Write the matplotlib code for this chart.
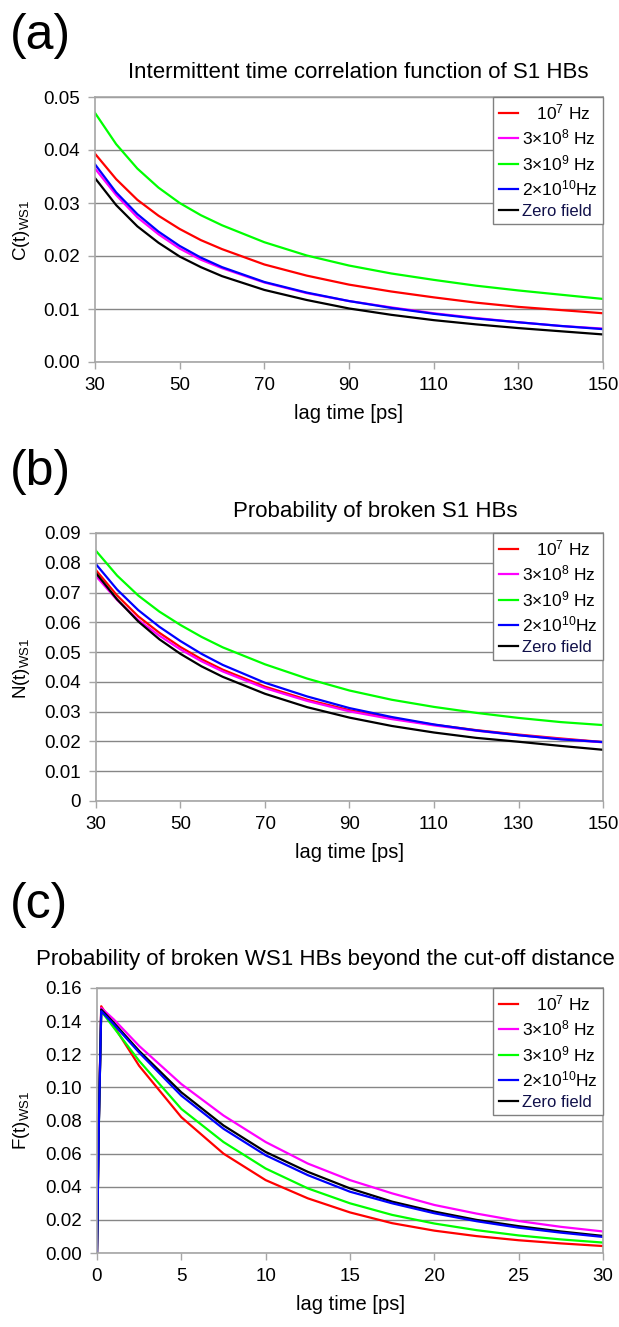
import matplotlib
matplotlib.use("Agg")
import matplotlib.pyplot as plt
from matplotlib.ticker import FixedLocator, FuncFormatter

plt.rcParams['font.family'] = ['Liberation Sans', 'DejaVu Sans']
plt.rcParams['mathtext.fontset'] = 'custom'
plt.rcParams['mathtext.rm'] = 'Liberation Sans'
plt.rcParams['mathtext.it'] = 'Liberation Sans:italic'
plt.rcParams['mathtext.bf'] = 'Liberation Sans:bold'

# ---------------- data ----------------
series_labels = ['   10$^{7}$ Hz', '3×10$^{8}$ Hz', '3×10$^{9}$ Hz', '2×10$^{10}$Hz', 'Zero field']
series_colors = ['#ff0000', '#ff00ff', '#00ff00', '#0000ff', '#000000']

# panel (a): intermittent time correlation function
t_a = [30, 35, 40, 45, 50, 55, 60, 70, 80, 90, 100, 110, 120, 130, 140, 150]
c_1e7 = [0.0393, 0.0345, 0.0306, 0.0276, 0.0251, 0.0230, 0.0213, 0.0184, 0.0163, 0.0146, 0.0133, 0.0122, 0.0112, 0.0104, 0.0098, 0.0092]
c_3e8 = [0.0365, 0.0315, 0.0273, 0.0241, 0.0214, 0.0193, 0.0177, 0.0150, 0.0130, 0.0115, 0.0103, 0.0092, 0.0083, 0.0075, 0.0068, 0.0063]
c_3e9 = [0.0470, 0.0411, 0.0365, 0.0329, 0.0300, 0.0277, 0.0258, 0.0226, 0.0201, 0.0182, 0.0167, 0.0155, 0.0144, 0.0135, 0.0127, 0.0119]
c_2e10 = [0.0373, 0.0320, 0.0279, 0.0246, 0.0219, 0.0197, 0.0179, 0.0151, 0.0131, 0.0115, 0.0102, 0.0091, 0.0082, 0.0075, 0.0068, 0.0062]
c_zero = [0.0347, 0.0296, 0.0256, 0.0225, 0.0199, 0.0179, 0.0162, 0.0136, 0.0117, 0.0101, 0.0089, 0.0079, 0.0071, 0.0064, 0.0058, 0.0052]

# panel (b): probability of broken S1 HBs
t_b = [30, 35, 40, 45, 50, 55, 60, 70, 80, 90, 100, 110, 120, 130, 140, 150]
n_1e7 = [0.0775, 0.0690, 0.0620, 0.0565, 0.0517, 0.0476, 0.0441, 0.0384, 0.0340, 0.0305, 0.0278, 0.0256, 0.0238, 0.0223, 0.0210, 0.0198]
n_3e8 = [0.0755, 0.0675, 0.0608, 0.0555, 0.0509, 0.0469, 0.0435, 0.0379, 0.0336, 0.0301, 0.0275, 0.0254, 0.0236, 0.0221, 0.0208, 0.0197]
n_3e9 = [0.0840, 0.0757, 0.0690, 0.0636, 0.0591, 0.0551, 0.0516, 0.0459, 0.0411, 0.0371, 0.0340, 0.0316, 0.0296, 0.0279, 0.0265, 0.0255]
n_2e10 = [0.0795, 0.0710, 0.0641, 0.0585, 0.0537, 0.0494, 0.0457, 0.0397, 0.0351, 0.0312, 0.0282, 0.0257, 0.0237, 0.0221, 0.0207, 0.0198]
n_zero = [0.0765, 0.0677, 0.0603, 0.0543, 0.0494, 0.0452, 0.0417, 0.0360, 0.0315, 0.0280, 0.0252, 0.0230, 0.0212, 0.0199, 0.0185, 0.0172]

# panel (c): probability of broken WS1 HBs beyond cut-off distance
t_c = [0, 0.1, 0.25, 1, 2.5, 5, 7.5, 10, 12.5, 15, 17.5, 20, 22.5, 25, 27.5, 30]
f_1e7 = [0, 0.075, 0.149, 0.137, 0.113, 0.082, 0.060, 0.044, 0.033, 0.0245, 0.018, 0.0135, 0.0102, 0.0077, 0.0058, 0.0042]
f_3e8 = [0, 0.074, 0.148, 0.141, 0.125, 0.102, 0.083, 0.067, 0.054, 0.044, 0.036, 0.029, 0.0238, 0.0193, 0.0158, 0.0130]
f_3e9 = [0, 0.073, 0.146, 0.136, 0.116, 0.087, 0.067, 0.051, 0.039, 0.030, 0.023, 0.0178, 0.0138, 0.0106, 0.0082, 0.0063]
f_2e10 = [0, 0.073, 0.146, 0.138, 0.121, 0.095, 0.075, 0.059, 0.047, 0.037, 0.030, 0.024, 0.0192, 0.0153, 0.0123, 0.0097]
f_zero = [0, 0.074, 0.147, 0.139, 0.122, 0.097, 0.077, 0.061, 0.049, 0.039, 0.031, 0.025, 0.020, 0.0162, 0.013, 0.0103]

titles = ['Intermittent time correlation function of S1 HBs',
          'Probability of broken S1 HBs',
          'Probability of broken WS1 HBs beyond the cut-off distance']
panel_letters = ['(a)', '(b)', '(c)']
ylabels = [r'C(t)$_{\mathrm{WS1}}$', r'N(t)$_{\mathrm{WS1}}$', r'F(t)$_{\mathrm{WS1}}$']
xlabel = 'lag time [ps]'
xticks_ab = [30, 50, 70, 90, 110, 130, 150]
xticks_c = [0, 5, 10, 15, 20, 25, 30]
yticks_a = [0.00, 0.01, 0.02, 0.03, 0.04, 0.05]
yticks_b = [0, 0.01, 0.02, 0.03, 0.04, 0.05, 0.06, 0.07, 0.08, 0.09]
yticks_c = [0.00, 0.02, 0.04, 0.06, 0.08, 0.10, 0.12, 0.14, 0.16]

# ---------------- figure ----------------
W, H = 619, 1327
fig = plt.figure(figsize=(W / 100, H / 100), dpi=100)
fig.patch.set_facecolor('white')


def px_axes(left, top, right, bottom):
    return fig.add_axes([left / W, 1 - bottom / H, (right - left) / W, (bottom - top) / H])


grid_col = '#868686'
spine_col = '#a6a6a6'


def style_axes(ax, xt, yt, fmt):
    ax.set_xlim(xt[0], xt[-1])
    ax.set_ylim(yt[0], yt[-1])
    ax.xaxis.set_major_locator(FixedLocator(xt))
    ax.yaxis.set_major_locator(FixedLocator(yt))
    ax.yaxis.set_major_formatter(FuncFormatter(fmt))
    ax.grid(axis='y', color=grid_col, linewidth=1.0)
    ax.set_axisbelow(True)
    for s in ax.spines.values():
        s.set_color(spine_col)
        s.set_linewidth(1.2)
    ax.tick_params(axis='both', direction='out', length=5, width=1.0, color=spine_col,
                   labelsize=13.5, labelcolor='black', pad=6)


def fmt2(v, pos):
    return '%.2f' % v


def fmt_b(v, pos):
    return '0' if abs(v) < 1e-12 else '%.2f' % v


def add_legend(ax, handles):
    leg = ax.legend(handles, series_labels, loc='upper right', bbox_to_anchor=(1.0, 1.0),
                    borderaxespad=0.0, frameon=True, fancybox=False, framealpha=1.0,
                    edgecolor='#808080', fontsize=12.5, handlelength=1.1, handletextpad=0.25,
                    labelspacing=0.32, borderpad=0.3)
    leg.get_frame().set_linewidth(1.0)
    txts = leg.get_texts()
    txts[-1].set_fontsize(12)
    txts[-1].set_color('#10104a')
    return leg


# panel (a)
axa = px_axes(95, 97, 603, 362)
order_a = [(c_1e7, 0), (c_3e8, 1), (c_3e9, 2), (c_2e10, 3), (c_zero, 4)]
ha = []
for ys, i in order_a:
    l, = axa.plot(t_a, ys, color=series_colors[i], linewidth=1.6)
    ha.append(l)
style_axes(axa, xticks_ab, yticks_a, fmt2)
add_legend(axa, ha)

# panel (b)
axb = px_axes(96, 533, 603, 801)
order_b = [(n_1e7, 0), (n_3e8, 1), (n_3e9, 2), (n_2e10, 3), (n_zero, 4)]
hb = []
for ys, i in order_b:
    l, = axb.plot(t_b, ys, color=series_colors[i], linewidth=1.6)
    hb.append(l)
style_axes(axb, xticks_ab, yticks_b, fmt_b)
add_legend(axb, hb)

# panel (c)
axc = px_axes(97, 988, 603, 1253)
series_c = [f_1e7, f_3e8, f_3e9, f_2e10, f_zero]
hc = [None] * 5
for i in [0, 1, 2, 4, 3]:
    l, = axc.plot(t_c, series_c[i], color=series_colors[i], linewidth=1.6)
    hc[i] = l
style_axes(axc, xticks_c, yticks_c, fmt2)
add_legend(axc, hc)

# texts
for ax in [axa, axb, axc]:
    ax.set_xlabel(xlabel, fontsize=14.5, labelpad=7)

fig.text(22 / W, 1 - 230 / H, ylabels[0], rotation=90, ha='center', va='center', fontsize=13.5)
fig.text(22 / W, 1 - 668 / H, ylabels[1], rotation=90, ha='center', va='center', fontsize=13.5)
fig.text(22 / W, 1 - 1120 / H, ylabels[2], rotation=90, ha='center', va='center', fontsize=13.5)

fig.text(358 / W, 1 - 73 / H, titles[0], ha='center', va='center', fontsize=16)
fig.text(375 / W, 1 - 511 / H, titles[1], ha='center', va='center', fontsize=16)
fig.text(325 / W, 1 - 960 / H, titles[2], ha='center', va='center', fontsize=16)

fig.text(10 / W, 1 - 36 / H, panel_letters[0], ha='left', va='center', fontsize=36)
fig.text(10 / W, 1 - 472 / H, panel_letters[1], ha='left', va='center', fontsize=36)
fig.text(10 / W, 1 - 905 / H, panel_letters[2], ha='left', va='center', fontsize=36)

fig.savefig('out.png', dpi=100, facecolor='white')
